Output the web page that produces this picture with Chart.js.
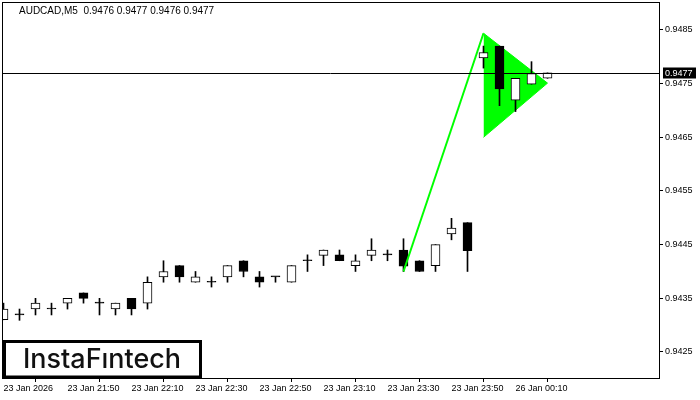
<!DOCTYPE html>
<html>
<head>
<meta charset="utf-8">
<script src="https://cdn.jsdelivr.net/npm/chart.js@4.4.1/dist/chart.umd.min.js"></script>
<style>
    html, body { margin: 0; padding: 0; background: #fff; }
    #wrap { width: 700px; height: 400px; }
</style>
</head>
<body>
<div id="wrap"><canvas id="chart" width="700" height="400"></canvas></div>
<script>
    // AUDCAD M5 candles, 23 Jan 21:30 .. 26 Jan 00:20
    const opens  = [0.94310, 0.94319, 0.94330, 0.94330, 0.94341, 0.94360, 0.94341, 0.94330, 0.94350, 0.94341,
                    0.94390, 0.94411, 0.94380, 0.94380, 0.94390, 0.94420, 0.94390, 0.94390, 0.94380, 0.94420,
                    0.94430, 0.94431, 0.94411, 0.94430, 0.94431, 0.94440, 0.94420, 0.94411, 0.94470, 0.94491,
                    0.94798, 0.94820, 0.94719, 0.94749, 0.94760];
    const highs  = [0.94341, 0.94330, 0.94350, 0.94341, 0.94350, 0.94360, 0.94350, 0.94341, 0.94350, 0.94390,
                    0.94420, 0.94411, 0.94400, 0.94390, 0.94411, 0.94420, 0.94400, 0.94390, 0.94411, 0.94431,
                    0.94440, 0.94440, 0.94431, 0.94461, 0.94440, 0.94461, 0.94420, 0.94450, 0.94499, 0.94491,
                    0.94820, 0.94820, 0.94760, 0.94791, 0.94770];
    const lows   = [0.94310, 0.94309, 0.94319, 0.94319, 0.94330, 0.94341, 0.94319, 0.94319, 0.94319, 0.94330,
                    0.94380, 0.94380, 0.94380, 0.94371, 0.94380, 0.94390, 0.94371, 0.94380, 0.94380, 0.94400,
                    0.94411, 0.94420, 0.94400, 0.94420, 0.94420, 0.94400, 0.94400, 0.94400, 0.94459, 0.94400,
                    0.94779, 0.94709, 0.94698, 0.94749, 0.94760];
    const closes = [0.94330, 0.94319, 0.94341, 0.94330, 0.94350, 0.94350, 0.94341, 0.94341, 0.94330, 0.94380,
                    0.94400, 0.94390, 0.94390, 0.94380, 0.94411, 0.94400, 0.94380, 0.94390, 0.94411, 0.94420,
                    0.94440, 0.94420, 0.94420, 0.94440, 0.94431, 0.94410, 0.94400, 0.94450, 0.94481, 0.94439,
                    0.94808, 0.94740, 0.94760, 0.94769, 0.94770];

    const xTickPos    = [0, 4, 8, 12, 16, 20, 24, 28, 32];
    const xTickLabels = ['23 Jan 2026', '23 Jan 21:50', '23 Jan 22:10', '23 Jan 22:30', '23 Jan 22:50',
                         '23 Jan 23:10', '23 Jan 23:30', '23 Jan 23:50', '26 Jan 00:10'];
    const yTicks = [0.9425, 0.9435, 0.9445, 0.9455, 0.9465, 0.9475, 0.9485];

    // bullish pennant: pole + triangle
    const poleX = [25, 30];
    const poleY = [0.94400, 0.94844];
    const flagX = [30, 34];
    const flagUpper = [0.94844, 0.94751];
    const flagLower = [0.94650, 0.94751];

    const lastPrice = 0.9477;
    const title = 'AUDCAD,M5  0.9476 0.9477 0.9476 0.9477';

    const LIME = '#00ff00';
    const FONT = "'Liberation Sans', Arial, sans-serif";

    const idx = opens.map((_, i) => i);

    const decor = {
        id: 'decor',
        beforeDraw(chart) {
            const ctx = chart.ctx;
            ctx.save();
            ctx.fillStyle = '#fff';
            ctx.fillRect(0, 0, chart.width, chart.height);
            ctx.restore();
        },
        afterDraw(chart) {
            const ctx = chart.ctx;
            const a = chart.chartArea;
            const y = chart.scales.y;
            ctx.save();

            // current price line
            const py = Math.round(y.getPixelForValue(lastPrice)) + 0.5;
            ctx.strokeStyle = '#000';
            ctx.lineWidth = 1;
            ctx.beginPath();
            ctx.moveTo(a.left, py);
            ctx.lineTo(a.right, py);
            ctx.stroke();

            // frame
            ctx.strokeRect(a.left + 0.5, a.top - 0.5, a.right - a.left, a.bottom - a.top + 1);

            // price label on axis
            ctx.fillStyle = '#000';
            ctx.fillRect(a.right + 4, py - 6, 33, 11);
            ctx.fillStyle = '#fff';
            ctx.font = '9px ' + FONT;
            ctx.textBaseline = 'middle';
            ctx.textAlign = 'left';
            ctx.fillText(lastPrice.toFixed(4), a.right + 6, py);

            // title
            ctx.fillStyle = '#000';
            ctx.font = '10px ' + FONT;
            ctx.fillText(title, 19, 11);

            // logo
            ctx.fillStyle = '#fff';
            ctx.fillRect(3, 340, 199, 38);
            ctx.lineWidth = 3;
            ctx.strokeStyle = '#000';
            ctx.strokeRect(4.5, 341.5, 196, 35.5);
            ctx.fillStyle = '#111';
            ctx.font = '500 27px Inter, ' + FONT;
            ctx.textBaseline = 'alphabetic';
            ctx.fillText('InstaF\u0131ntech', 23, 368, 158);

            ctx.restore();
        }
    };

    new Chart(document.getElementById('chart'), {
        type: 'bar',
        data: {
            datasets: [
                {
                    type: 'line',
                    data: poleX.map((x, k) => ({ x: x, y: poleY[k] })),
                    borderColor: LIME,
                    borderWidth: 2,
                    pointRadius: 0,
                    order: 0
                },
                {
                    label: 'Bodies',
                    data: idx.map(i => ({ x: i, y: [opens[i], closes[i]] })),
                    backgroundColor: idx.map(i => closes[i] > opens[i] ? '#fff' : '#000'),
                    borderColor: '#000',
                    borderWidth: 1,
                    borderSkipped: false,
                    minBarLength: 1,
                    barThickness: 9,
                    grouped: false,
                    order: 1
                },
                {
                    label: 'Wicks',
                    data: idx.map(i => ({ x: i, y: [lows[i], highs[i]] })),
                    backgroundColor: '#000',
                    borderWidth: 0,
                    barThickness: 1,
                    grouped: false,
                    order: 2
                },
                {
                    type: 'line',
                    data: flagX.map((x, k) => ({ x: x, y: flagUpper[k] })),
                    borderColor: LIME,
                    borderWidth: 1,
                    backgroundColor: LIME,
                    pointRadius: 0,
                    fill: false,
                    order: 3
                },
                {
                    type: 'line',
                    data: flagX.map((x, k) => ({ x: x, y: flagLower[k] })),
                    borderColor: LIME,
                    borderWidth: 1,
                    backgroundColor: LIME,
                    pointRadius: 0,
                    fill: '-1',
                    order: 3
                }
            ]
        },
        options: {
            responsive: false,
            animation: false,
            events: [],
            layout: { padding: { left: 2, top: 3, right: 0, bottom: 0 } },
            plugins: {
                legend: { display: false },
                tooltip: { enabled: false }
            },
            scales: {
                x: {
                    type: 'linear',
                    min: -0.09375,
                    max: 40.96875,
                    offset: false,
                    afterBuildTicks: s => { s.ticks = xTickPos.map(v => ({ value: v })); },
                    afterFit: s => { s.height = 22; s.paddingLeft = 0; s.paddingRight = 0; },
                    border: { display: false },
                    grid: { drawOnChartArea: false, drawTicks: true, tickLength: 4, color: '#000' },
                    ticks: {
                        autoSkip: false,
                        maxRotation: 0,
                        align: 'start',
                        padding: 1,
                        color: '#000',
                        font: { family: FONT, size: 9 },
                        callback: v => xTickLabels[xTickPos.indexOf(v)]
                    }
                },
                y: {
                    position: 'right',
                    min: 0.942015,
                    max: 0.949003,
                    afterBuildTicks: s => { s.ticks = yTicks.map(v => ({ value: v })); },
                    afterFit: s => { s.width = 41; s.paddingTop = 0; s.paddingBottom = 0; },
                    border: { display: false },
                    grid: { drawOnChartArea: false, drawTicks: true, tickLength: 4, color: '#000' },
                    ticks: {
                        padding: 2,
                        color: '#000',
                        font: { family: FONT, size: 9 },
                        callback: v => v.toFixed(4)
                    }
                }
            }
        },
        plugins: [decor]
    });
</script>
</body>
</html>
